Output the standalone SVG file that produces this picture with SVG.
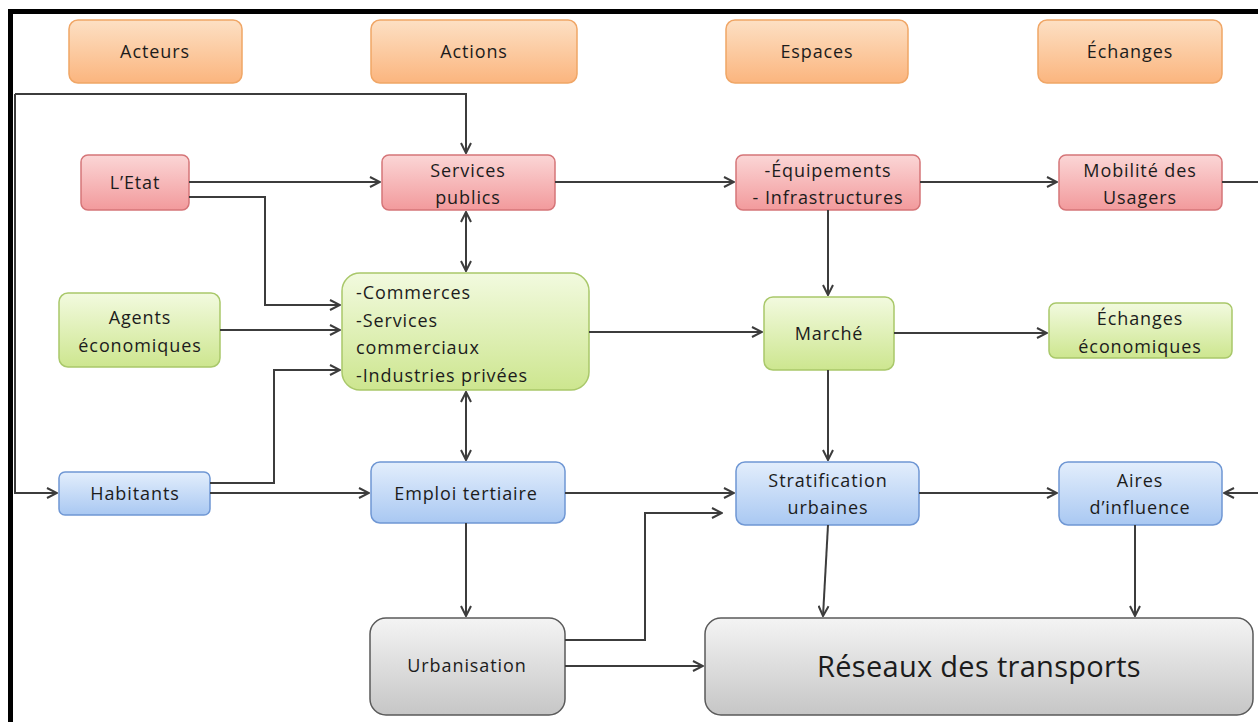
<svg xmlns="http://www.w3.org/2000/svg" width="1258" height="722" viewBox="0 0 1258 722">
<defs>
<linearGradient id="gO" x1="0" y1="0" x2="0" y2="1"><stop offset="0" stop-color="#fde0c4"/><stop offset="1" stop-color="#fbb57e"/></linearGradient>
<linearGradient id="gR" x1="0" y1="0" x2="0" y2="1"><stop offset="0" stop-color="#fbd6d6"/><stop offset="1" stop-color="#f29a9c"/></linearGradient>
<linearGradient id="gG" x1="0" y1="0" x2="0" y2="1"><stop offset="0" stop-color="#f2fadf"/><stop offset="1" stop-color="#cde68f"/></linearGradient>
<linearGradient id="gB" x1="0" y1="0" x2="0" y2="1"><stop offset="0" stop-color="#e3eefc"/><stop offset="1" stop-color="#a9c8f2"/></linearGradient>
<linearGradient id="gK" x1="0" y1="0" x2="0" y2="1"><stop offset="0" stop-color="#f4f4f4"/><stop offset="1" stop-color="#c6c6c6"/></linearGradient>
<marker id="ar" viewBox="0 0 12 12" refX="11" refY="6" markerWidth="12" markerHeight="12" markerUnits="userSpaceOnUse" orient="auto-start-reverse">
<path d="M1,1 L11,6 L1,11" fill="none" stroke="#3c3c3c" stroke-width="2"/>
</marker>
</defs>
<style>
.o{fill:url(#gO);stroke:#f0a666;stroke-width:1.5}
.r{fill:url(#gR);stroke:#d57578;stroke-width:1.5}
.g{fill:url(#gG);stroke:#a9c86a;stroke-width:1.5}
.b{fill:url(#gB);stroke:#6f97d4;stroke-width:1.5}
.k{fill:url(#gK);stroke:#5a5a5a;stroke-width:1.5}
text{font-family:"Open Sans","Noto Sans","Liberation Sans",sans-serif;font-size:18px;letter-spacing:0.9px;fill:#1c1c1c;text-anchor:middle}
.l{text-anchor:start}
.big{font-size:29px;letter-spacing:0.3px}
.c path{fill:none;stroke:#3c3c3c;stroke-width:2}
.c .a{marker-end:url(#ar)}
.c .d{marker-start:url(#ar);marker-end:url(#ar)}
</style>
<rect width="1258" height="722" fill="#fff"/>
<path d="M10.5,722 V11.5 H1258" fill="none" stroke="#000" stroke-width="5"/>

<g id="acteurs"><rect class="o" x="69" y="20" width="173" height="63" rx="9"/><text x="155" y="58">Acteurs</text></g>
<g id="actions"><rect class="o" x="371" y="20" width="206" height="63" rx="9"/><text x="474" y="58">Actions</text></g>
<g id="espaces"><rect class="o" x="726" y="20" width="182" height="63" rx="9"/><text x="817" y="58">Espaces</text></g>
<g id="echanges"><rect class="o" x="1038" y="20" width="184" height="63" rx="9"/><text x="1130" y="58">Échanges</text></g>

<g id="etat"><rect class="r" x="81" y="155" width="108" height="55" rx="7"/><text x="135" y="189">L’Etat</text></g>
<g id="services-publics"><rect class="r" x="382" y="155" width="173" height="55" rx="7"/><text x="468" y="177">Services</text><text x="468" y="204">publics</text></g>
<g id="equipements"><rect class="r" x="736" y="155" width="184" height="55" rx="7"/><text x="828" y="177">-Équipements</text><text x="828" y="204">- Infrastructures</text></g>
<g id="mobilite"><rect class="r" x="1059" y="155" width="163" height="55" rx="7"/><text x="1140" y="177">Mobilité des</text><text x="1140" y="204">Usagers</text></g>

<g id="agents"><rect class="g" x="59" y="293" width="161" height="74" rx="9"/><text x="140" y="324">Agents</text><text x="140" y="352">économiques</text></g>
<g id="commerces"><rect class="g" x="342" y="273" width="247" height="117" rx="18"/><text class="l" x="356" y="299">-Commerces</text><text class="l" x="356" y="327">-Services</text><text class="l" x="356" y="354">commerciaux</text><text class="l" x="356" y="382">-Industries privées</text></g>
<g id="marche"><rect class="g" x="764" y="297" width="130" height="73" rx="9"/><text x="829" y="340">Marché</text></g>
<g id="echanges-eco"><rect class="g" x="1049" y="303" width="183" height="55" rx="7"/><text x="1140" y="325">Échanges</text><text x="1140" y="353">économiques</text></g>

<g id="habitants"><rect class="b" x="59" y="472" width="151" height="43" rx="6"/><text x="135" y="500">Habitants</text></g>
<g id="emploi"><rect class="b" x="371" y="462" width="194" height="61" rx="9"/><text x="466" y="500">Emploi tertiaire</text></g>
<g id="stratification"><rect class="b" x="736" y="462" width="183" height="63" rx="9"/><text x="828" y="487">Stratification</text><text x="828" y="514">urbaines</text></g>
<g id="aires"><rect class="b" x="1059" y="462" width="163" height="63" rx="9"/><text x="1140" y="487">Aires</text><text x="1140" y="514">d’influence</text></g>

<g id="urbanisation"><rect class="k" x="370" y="618" width="195" height="97" rx="16"/><text x="467" y="672">Urbanisation</text></g>
<g id="reseaux"><rect class="k" x="705" y="618" width="548" height="97" rx="16"/><text class="big" x="979" y="677">Réseaux des transports</text></g>

<g class="c" id="connectors">
<path class="a" d="M15,94 H466 V153"/>
<path class="a" d="M15,94 V493 H57"/>
<path class="a" d="M189,182 H380"/>
<path class="a" d="M189,197 H265 V305 H340"/>
<path class="d" d="M466,212 V271"/>
<path class="a" d="M555,182 H734"/>
<path class="a" d="M920,182 H1057"/>
<path d="M1222,182 H1258"/>
<path class="a" d="M828,210 V295"/>
<path class="a" d="M220,330 H340"/>
<path class="a" d="M210,483 H274 V370 H340"/>
<path class="a" d="M589,332 H762"/>
<path class="a" d="M894,333 H1047"/>
<path class="d" d="M466,392 V460"/>
<path class="a" d="M210,493 H369"/>
<path class="a" d="M565,493 H734"/>
<path class="a" d="M828,370 V460"/>
<path class="a" d="M919,493 H1057"/>
<path class="a" d="M1258,493 H1224"/>
<path class="a" d="M466,523 V616"/>
<path class="a" d="M565,640 H645 V513 H722"/>
<path class="a" d="M565,666 H703"/>
<path class="a" d="M828,525 L823,616"/>
<path class="a" d="M1135,525 V616"/>
</g>
</svg>
